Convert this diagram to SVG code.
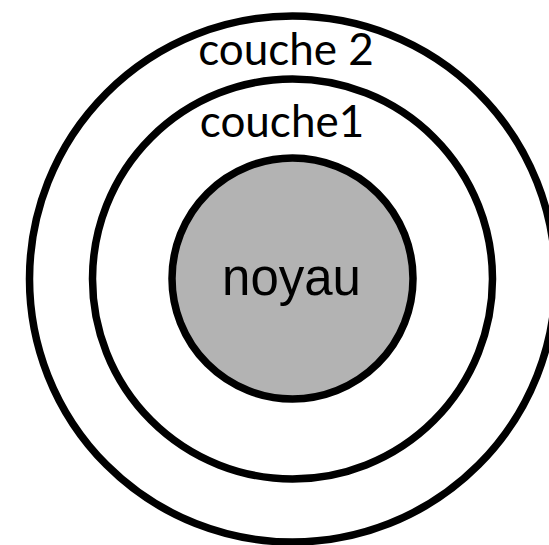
<svg xmlns="http://www.w3.org/2000/svg" width="549" height="545" viewBox="0 0 549 545">
<style>
.ring{fill:none;stroke:#000;stroke-width:7.5}
.lbl{font-family:Lato,"Liberation Sans",sans-serif;font-size:44px;fill:#000;text-anchor:middle}
.core{font-family:"Liberation Sans",Arial,sans-serif;font-size:51px;fill:#000;text-anchor:middle}
</style>
<rect width="549" height="545" fill="#fff"/>
<g id="couche2">
<circle class="ring" cx="292.5" cy="279" r="263"/>
<text class="lbl" x="286" y="65">couche 2</text>
</g>
<g id="couche1">
<circle class="ring" cx="292.5" cy="279" r="200"/>
<text class="lbl" x="282" y="137">couche1</text>
</g>
<g id="noyau">
<circle cx="292.5" cy="278.5" r="120.5" fill="#b3b3b3" stroke="#000" stroke-width="7.5"/>
<text class="core" x="291.5" y="295">noyau</text>
</g>
<g id="connectors"/>
</svg>
